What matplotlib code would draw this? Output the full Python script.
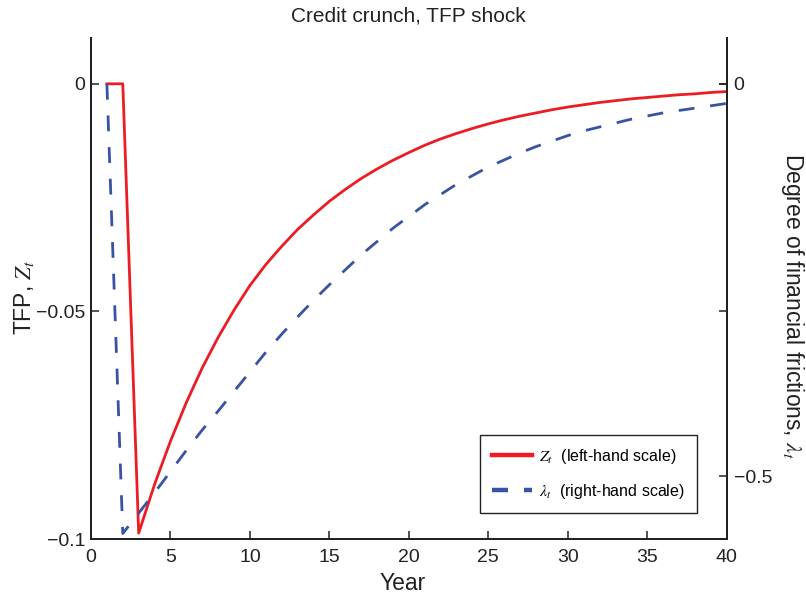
import matplotlib
matplotlib.use('Agg')
import matplotlib.pyplot as plt

# ---- data ----
years = list(range(1, 41))
tfp = [0.0, 0.0, -0.0987, -0.0880, -0.0785, -0.0700, -0.0624, -0.0557, -0.0497, -0.0443,
       -0.0397, -0.0357, -0.0320, -0.0288, -0.0258, -0.0232, -0.0208, -0.0187, -0.0168, -0.0151,
       -0.0135, -0.0121, -0.0109, -0.0098, -0.0088, -0.0079, -0.0071, -0.0064, -0.0057, -0.0051,
       -0.0046, -0.0041, -0.0037, -0.0033, -0.0030, -0.0027, -0.0024, -0.0022, -0.0019, -0.0017]
lam = [0.0, -0.573, -0.547, -0.521, -0.494, -0.467, -0.441, -0.417, -0.392, -0.367,
       -0.342, -0.319, -0.297, -0.276, -0.256, -0.237, -0.218, -0.201, -0.184, -0.169,
       -0.154, -0.141, -0.128, -0.117, -0.106, -0.097, -0.088, -0.080, -0.073, -0.066,
       -0.060, -0.055, -0.050, -0.045, -0.041, -0.037, -0.034, -0.031, -0.028, -0.025]

xticks = [0, 5, 10, 15, 20, 25, 30, 35, 40]
left_ticks = [-0.1, -0.05, 0]
left_ticklabels = ['\u22120.1', '\u22120.05', '0']
right_ticks = [-0.5, 0]
right_ticklabels = ['\u22120.5', '0']

title = 'Credit crunch, TFP shock'
xlabel = 'Year'
ylabel_left = 'TFP, $Z_t$'
ylabel_right = 'Degree of financial frictions, $\\lambda_t$'
legend_labels = ['$Z_t$  (left-hand scale)', '$\\lambda_t$  (right-hand scale)']

# ---- style ----
plt.rcParams['font.family'] = ['Liberation Sans', 'DejaVu Sans']
plt.rcParams['mathtext.fontset'] = 'stix'

RED = '#ED1C24'
BLUE = '#3953A4'
INK = '#222222'

fig = plt.figure(figsize=(8.06, 5.95), dpi=100)
ax1 = fig.add_axes([91 / 806, 56 / 595, 635.7 / 806, 500.7 / 595])
ax2 = ax1.twinx()

l1, = ax1.plot(years, tfp, color=RED, lw=2.0)
l2, = ax2.plot(years, lam, color=BLUE, lw=2.0, dashes=(5.7, 5.7))

ax1.set_xlim(0, 40)
ax1.set_ylim(-0.1, 0.01)
ax2.set_ylim(-0.58, 0.058)

ax1.set_xticks(xticks)
ax1.set_xticklabels([str(v) for v in xticks])
ax1.set_yticks(left_ticks)
ax1.set_yticklabels(left_ticklabels)
ax2.set_yticks(right_ticks)
ax2.set_yticklabels(right_ticklabels)

for ax in (ax1, ax2):
    ax.spines['top'].set_visible(False)
    for s in ('left', 'right', 'bottom'):
        ax.spines[s].set_linewidth(1.4)
        ax.spines[s].set_color(INK)

ax1.tick_params(axis='both', direction='in', length=6, width=1.1, labelsize=14,
                colors=INK, labelcolor=INK)
ax1.tick_params(axis='y', right=True, labelright=False, pad=4)
ax1.tick_params(axis='x', top=False, pad=7)
ax2.tick_params(axis='y', direction='in', length=6, width=1.1, labelsize=14,
                colors=INK, labelcolor=INK, pad=5)

ax1.set_title(title, fontsize=15, pad=12, color=INK)
ax1.set_xlabel(xlabel, fontsize=16.5, color=INK)
ax1.xaxis.set_label_coords(0.49, -0.066)
ax1.set_ylabel(ylabel_left, fontsize=16.5, color=INK)
ax1.yaxis.set_label_coords(-0.087, 0.483)
ax2.set_ylabel(ylabel_right, fontsize=16.5, rotation=-90, va='bottom', color=INK)
ax2.yaxis.set_label_coords(1.082, 0.465)

leg = ax2.legend([l1, l2], legend_labels, loc='lower right',
                 bbox_to_anchor=(0.953, 0.052), fontsize=11.5, frameon=True,
                 fancybox=False, edgecolor=INK, framealpha=1,
                 handlelength=2.5, handletextpad=0.45, labelspacing=1.0,
                 borderpad=0.75, borderaxespad=0)
leg.get_frame().set_linewidth(1.0)
hl = leg.get_lines()
hl[0].set_linewidth(3.2)
hl[1].set_linewidth(3.2)
hl[1].set_dashes((3.6, 3.6))

fig.savefig('out.png', dpi=100)
